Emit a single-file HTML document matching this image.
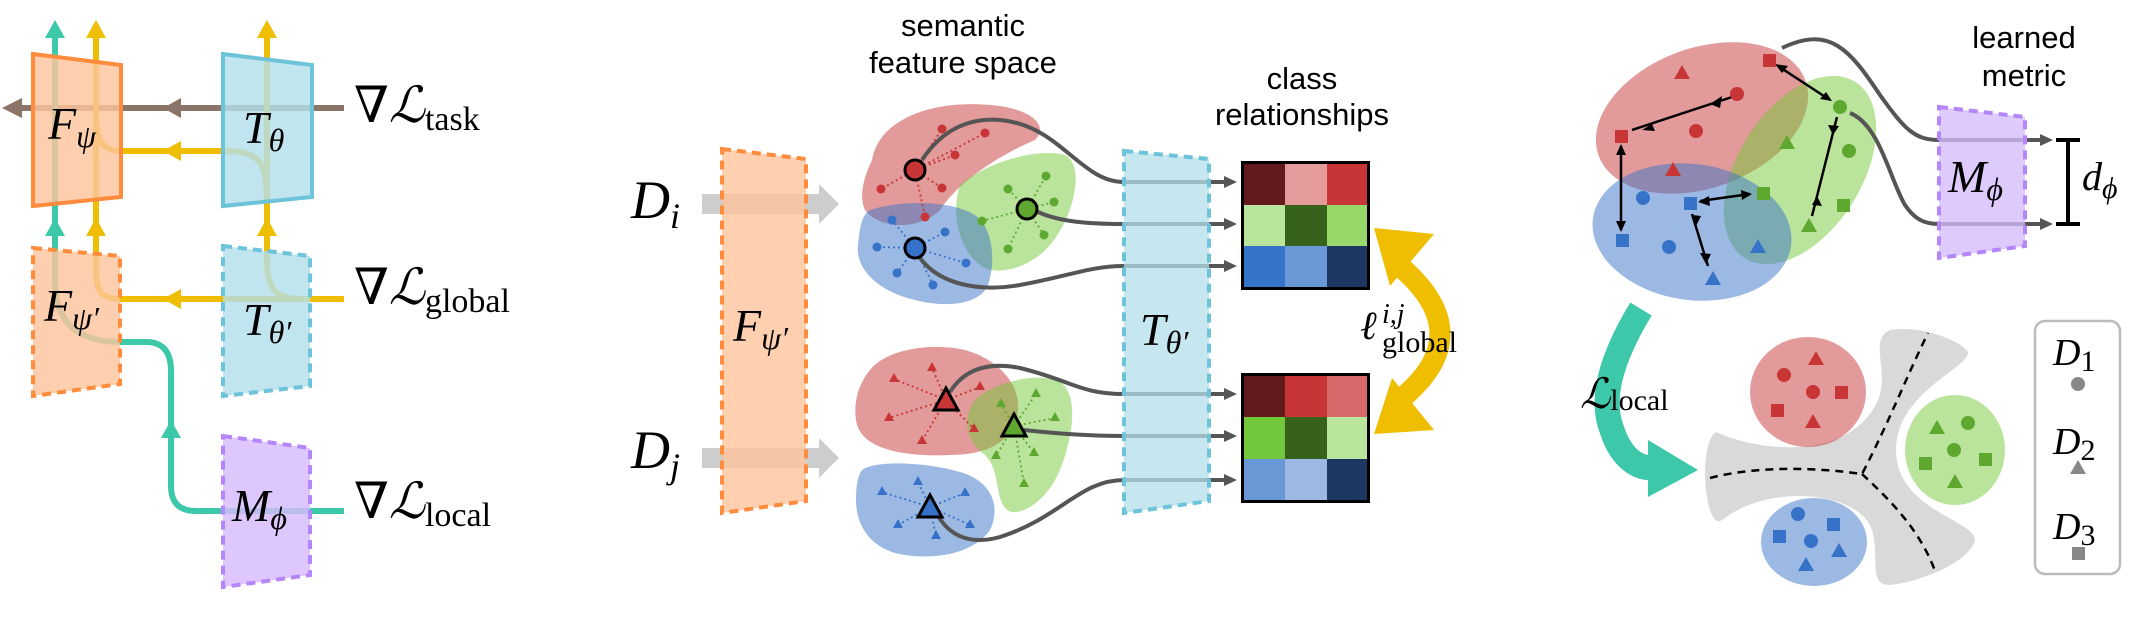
<!DOCTYPE html>
<html><head><meta charset="utf-8"><style>
html,body{margin:0;padding:0;background:#fff;}
svg{display:block;}
.m{font-family:"Liberation Serif","DejaVu Serif",serif;font-style:italic;fill:#000;}
.r{font-family:"Liberation Serif","DejaVu Serif",serif;fill:#000;}
.s{font-family:"Liberation Sans",sans-serif;fill:#000;}
</style></head><body>
<svg width="2133" height="633" viewBox="0 0 2133 633" xmlns="http://www.w3.org/2000/svg">
<!-- ================= LEFT PANEL ================= -->
<g fill="none" stroke-width="6">
  <path d="M344 108 H12" stroke="#8b7468"/>
  <path d="M344 511 H196 Q171 511 171 486 V371 Q171 342 146 342 H120 C75 342 55 320 55 280 V34" stroke="#3cc8a9"/>
  <path d="M344 299 H120 C100 299 96 290 96 268 V34" stroke="#efbe00"/>
  <path d="M344 299 H300 C278 299 267 290 267 262 V34" stroke="#efbe00"/>
  <path d="M267 205 C267 160 260 151 223 151 H121 C102 151 96 140 96 115" stroke="#efbe00"/>
</g>
<g>
  <polygon points="2,108 22,98 22,118" fill="#8b7468"/>
  <polygon points="163,108 181,98 181,118" fill="#8b7468"/>
  <polygon points="163,151 181,141 181,161" fill="#efbe00"/>
  <polygon points="163,299 181,289 181,309" fill="#efbe00"/>
  <polygon points="55,20 45,38 65,38" fill="#3cc8a9"/>
  <polygon points="96,20 86,38 106,38" fill="#efbe00"/>
  <polygon points="267,20 257,38 277,38" fill="#efbe00"/>
  <polygon points="55,218 45,236 65,236" fill="#3cc8a9"/>
  <polygon points="96,218 86,236 106,236" fill="#efbe00"/>
  <polygon points="267,218 257,236 277,236" fill="#efbe00"/>
  <polygon points="171,420 161,438 181,438" fill="#3cc8a9"/>
</g>
<polygon points="33,54 121,65 121,197 33,206" fill="#fec49c" fill-opacity="0.82" stroke="#ff8c3c" stroke-width="4"/>
<polygon points="223,54 312,65 312,197 223,206" fill="#b3dfea" fill-opacity="0.82" stroke="#6cc3da" stroke-width="4"/>
<polygon points="33,248 120,256 120,384 33,396" fill="#fec49c" fill-opacity="0.82" stroke="#ff8c3c" stroke-width="4" stroke-dasharray="9,6"/>
<polygon points="223,246 310,256 310,386 223,396" fill="#b3dfea" fill-opacity="0.82" stroke="#6cc3da" stroke-width="4" stroke-dasharray="9,6"/>
<polygon points="223,436 310,448 310,575 223,587" fill="#d5bbfd" fill-opacity="0.82" stroke="#b585fb" stroke-width="4" stroke-dasharray="9,6"/>
<text class="m" x="48" y="139" font-size="46">F<tspan font-size="32" dy="8">ψ</tspan></text>
<text class="m" x="243" y="143" font-size="46">T<tspan font-size="32" dy="8">θ</tspan></text>
<text class="m" x="44" y="321" font-size="46">F<tspan font-size="32" dy="8">ψ′</tspan></text>
<text class="m" x="243" y="335" font-size="46">T<tspan font-size="32" dy="8">θ′</tspan></text>
<text class="m" x="232" y="521" font-size="46">M<tspan font-size="32" dy="8">ϕ</tspan></text>
<text class="r" x="354" y="122" font-size="50">∇<tspan font-style="italic">ℒ</tspan><tspan font-size="34" dy="8">task</tspan></text>
<text class="r" x="354" y="304" font-size="50">∇<tspan font-style="italic">ℒ</tspan><tspan font-size="34" dy="8">global</tspan></text>
<text class="r" x="354" y="518" font-size="50">∇<tspan font-style="italic">ℒ</tspan><tspan font-size="34" dy="8">local</tspan></text>

<!-- ================= MIDDLE PANEL ================= -->
<text class="s" x="963" y="36" font-size="31" text-anchor="middle">semantic</text>
<text class="s" x="963" y="73" font-size="31" text-anchor="middle">feature space</text>
<text class="s" x="1302" y="89" font-size="31" text-anchor="middle">class</text>
<text class="s" x="1302" y="125" font-size="31" text-anchor="middle">relationships</text>

<text class="m" x="631" y="218" font-size="54">D<tspan font-size="36" dy="10">i</tspan></text>
<text class="m" x="631" y="468" font-size="54">D<tspan font-size="36" dy="10">j</tspan></text>
<g fill="#cdcdcd">
  <rect x="702" y="194" width="118" height="20"/><polygon points="819,184 839,204 819,224"/>
  <rect x="702" y="448" width="118" height="20"/><polygon points="819,438 839,458 819,478"/>
</g>
<polygon points="722,149 806,159 806,501 722,513" fill="#fec49c" fill-opacity="0.8" stroke="#ff8c3c" stroke-width="4" stroke-dasharray="9,6"/>
<text class="m" x="733" y="341" font-size="46">F<tspan font-size="32" dy="8">ψ′</tspan></text>

<!-- top blobs -->
<path d="M872 160 C880 115 940 100 990 105 C1030 108 1050 125 1035 140 C1000 155 960 180 940 210 C920 230 880 230 865 210 C858 195 865 175 872 160 Z" fill="#c83536" fill-opacity="0.5"/>
<path d="M960 185 C990 160 1040 148 1065 155 C1085 165 1075 215 1050 245 C1030 268 1000 275 985 268 C960 255 950 215 960 185 Z" fill="#75c83a" fill-opacity="0.5"/>
<path d="M870 210 C900 200 950 200 975 215 C995 230 995 265 988 285 C980 305 945 308 915 300 C880 292 855 270 858 245 C860 225 862 215 870 210 Z" fill="#3a73c9" fill-opacity="0.5"/>
<!-- bottom blobs -->
<path d="M870 370 C885 350 930 342 965 350 C1000 360 1020 385 1018 410 C1015 440 990 455 950 455 C905 457 860 450 856 420 C853 400 860 382 870 370 Z" fill="#c83536" fill-opacity="0.5"/>
<path d="M975 400 C990 385 1035 370 1060 382 C1080 395 1072 440 1060 470 C1045 505 1015 520 1005 508 C995 495 1000 470 985 455 C965 440 962 418 975 400 Z" fill="#75c83a" fill-opacity="0.5"/>
<path d="M862 470 C875 460 925 462 960 472 C995 482 1000 510 990 530 C975 552 940 560 905 555 C870 550 856 525 856 500 C856 485 858 475 862 470 Z" fill="#3a73c9" fill-opacity="0.5"/>

<!-- dotted spokes -->
<g stroke-width="1.8" stroke-dasharray="2,3" fill="none">
  <g stroke="#c83536"><path d="M915 170 L942 129 M915 170 L985 133 M915 170 L955 155 M915 170 L881 189 M915 170 L942 188 M915 170 L925 217"/></g>
  <g stroke="#3672c8"><path d="M915 248 L892 220 M915 248 L945 232 M915 248 L877 247 M915 248 L966 263 M915 248 L897 273 M915 248 L933 285"/></g>
  <g stroke="#5fa830"><path d="M1027 209 L1046 176 M1027 209 L1008 189 M1027 209 L1054 202 M1027 209 L982 221 M1027 209 L1044 235 M1027 209 L1008 249"/></g>
  <g stroke="#c83536"><path d="M946 400 L894 379 M946 400 L932 368 M946 400 L980 387 M946 400 L889 418 M946 400 L974 429 M946 400 L922 441"/></g>
  <g stroke="#5fa830"><path d="M1014 426 L1001 404 M1014 426 L1036 394 M1014 426 L1055 418 M1014 426 L996 456 M1014 426 L1034 453 M1014 426 L1024 484"/></g>
  <g stroke="#3672c8"><path d="M930 507 L918 482 M930 507 L882 492 M930 507 L965 493 M930 507 L898 525 M930 507 L970 525 M930 507 L936 536"/></g>
</g>
<g fill="#c83536"><circle cx="942" cy="129" r="4.5"/><circle cx="985" cy="133" r="4.5"/><circle cx="955" cy="155" r="4.5"/><circle cx="881" cy="189" r="4.5"/><circle cx="942" cy="188" r="4.5"/><circle cx="925" cy="217" r="4.5"/></g>
<g fill="#3672c8"><circle cx="892" cy="220" r="4.5"/><circle cx="945" cy="232" r="4.5"/><circle cx="877" cy="247" r="4.5"/><circle cx="966" cy="263" r="4.5"/><circle cx="897" cy="273" r="4.5"/><circle cx="933" cy="285" r="4.5"/></g>
<g fill="#5fa830"><circle cx="1046" cy="176" r="4.5"/><circle cx="1008" cy="189" r="4.5"/><circle cx="1054" cy="202" r="4.5"/><circle cx="982" cy="221" r="4.5"/><circle cx="1044" cy="235" r="4.5"/><circle cx="1008" cy="249" r="4.5"/></g>
<g fill="#c83536"><path d="M894 373 l-5 9 h10z M932 362 l-5 9 h10z M980 381 l-5 9 h10z M889 412 l-5 9 h10z M974 423 l-5 9 h10z M922 435 l-5 9 h10z"/></g>
<g fill="#5fa830"><path d="M1001 398 l-5 9 h10z M1036 388 l-5 9 h10z M1055 412 l-5 9 h10z M996 450 l-5 9 h10z M1034 447 l-5 9 h10z M1024 478 l-5 9 h10z"/></g>
<g fill="#3672c8"><path d="M918 476 l-5 9 h10z M882 486 l-5 9 h10z M965 487 l-5 9 h10z M898 519 l-5 9 h10z M970 519 l-5 9 h10z M936 530 l-5 9 h10z"/></g>

<!-- connector curves -->
<g fill="none" stroke="#555" stroke-width="4">
  <path d="M922 160 C945 125 975 118 1000 120 C1060 125 1080 182 1124 182 H1228"/>
  <path d="M1038 212 C1060 222 1090 224 1124 224 H1228"/>
  <path d="M920 258 C940 285 980 292 1020 285 C1070 276 1090 266 1124 266 H1228"/>
  <path d="M950 392 C965 368 990 362 1020 368 C1070 380 1080 394 1124 394 H1228"/>
  <path d="M1024 430 C1060 434 1090 436 1124 436 H1228"/>
  <path d="M936 512 C950 540 975 544 1000 537 C1060 518 1080 480 1124 480 H1228"/>
</g>
<g fill="#555">
  <polygon points="1237,182 1224,176 1224,188"/><polygon points="1237,224 1224,218 1224,230"/><polygon points="1237,266 1224,260 1224,272"/>
  <polygon points="1237,394 1224,388 1224,400"/><polygon points="1237,436 1224,430 1224,442"/><polygon points="1237,480 1224,474 1224,486"/>
</g>
<circle cx="915" cy="170" r="10" fill="#c83536" stroke="#000" stroke-width="3"/>
<circle cx="915" cy="248" r="10" fill="#3672c8" stroke="#000" stroke-width="3"/>
<circle cx="1027" cy="209" r="10" fill="#5fa830" stroke="#000" stroke-width="3"/>
<polygon points="946,388 934,410 958,410" fill="#c83536" stroke="#000" stroke-width="3"/>
<polygon points="1014,414 1002,436 1026,436" fill="#5fa830" stroke="#000" stroke-width="3"/>
<polygon points="930,495 918,517 942,517" fill="#3672c8" stroke="#000" stroke-width="3"/>

<polygon points="1124,151 1209,159 1209,501 1124,513" fill="#b3dfea" fill-opacity="0.75" stroke="#6cc3da" stroke-width="4" stroke-dasharray="9,6"/>
<text class="m" x="1140" y="345" font-size="46">T<tspan font-size="32" dy="8">θ′</tspan></text>

<!-- matrices -->
<g>
  <rect x="1241" y="161" width="129" height="129" fill="#000"/>
  <rect x="1244" y="164" width="41" height="41" fill="#621a1d"/><rect x="1285" y="164" width="42" height="41" fill="#e59a9b"/><rect x="1327" y="164" width="40" height="41" fill="#c83536"/>
  <rect x="1244" y="205" width="41" height="41" fill="#b9e59c"/><rect x="1285" y="205" width="42" height="41" fill="#38621c"/><rect x="1327" y="205" width="40" height="41" fill="#97d86a"/>
  <rect x="1244" y="246" width="41" height="41" fill="#3674c9"/><rect x="1285" y="246" width="42" height="41" fill="#6a97d6"/><rect x="1327" y="246" width="40" height="41" fill="#1c3762"/>
  <rect x="1241" y="373" width="129" height="130" fill="#000"/>
  <rect x="1244" y="376" width="41" height="41" fill="#621a1d"/><rect x="1285" y="376" width="42" height="41" fill="#c83536"/><rect x="1327" y="376" width="40" height="41" fill="#d6686a"/>
  <rect x="1244" y="417" width="41" height="42" fill="#72c83a"/><rect x="1285" y="417" width="42" height="42" fill="#38621c"/><rect x="1327" y="417" width="40" height="42" fill="#b9e59c"/>
  <rect x="1244" y="459" width="41" height="41" fill="#6a97d6"/><rect x="1285" y="459" width="42" height="41" fill="#9db8e3"/><rect x="1327" y="459" width="40" height="41" fill="#1c3762"/>
</g>
<!-- yellow double arrow -->
<path d="M1402 268 Q1478 335 1402 398" fill="none" stroke="#efbe00" stroke-width="21"/>
<polygon points="1374,228 1390,286 1434,234" fill="#efbe00"/>
<polygon points="1374,434 1392,378 1434,430" fill="#efbe00"/>
<text class="m" x="1360" y="339" font-size="40">ℓ</text>
<text class="m" x="1382" y="323" font-size="28">i,j</text>
<text class="r" x="1382" y="352" font-size="30">global</text>

<!-- ================= RIGHT PANEL ================= -->
<ellipse cx="1702" cy="118" rx="110" ry="70" transform="rotate(-20 1702 118)" fill="#c83536" fill-opacity="0.5"/>
<ellipse cx="1800" cy="170" rx="62" ry="104" transform="rotate(32 1800 170)" fill="#75c83a" fill-opacity="0.5"/>
<ellipse cx="1692" cy="232" rx="100" ry="68" transform="rotate(8 1692 232)" fill="#3a73c9" fill-opacity="0.5"/>

<g fill="none" stroke="#555" stroke-width="4">
  <path d="M1782 48 C1830 25 1850 50 1880 95 C1905 130 1915 140 1939 140 H2046"/>
  <path d="M1850 113 C1880 125 1890 180 1905 205 C1915 220 1925 224 1939 224 H2046"/>
</g>
<polygon points="1939,107 2025,117 2025,246 1939,258" fill="#d5bbfd" fill-opacity="0.78" stroke="#b585fb" stroke-width="4" stroke-dasharray="9,6"/>
<g fill="#555"><polygon points="2053,140 2040,134 2040,146"/><polygon points="2053,224 2040,218 2040,230"/></g>
<text class="m" x="1948" y="192" font-size="46">M<tspan font-size="32" dy="8">ϕ</tspan></text>
<path d="M2056 140 H2080 M2068 140 V224 M2056 224 H2080" stroke="#000" stroke-width="4" fill="none"/>
<text class="m" x="2082" y="190" font-size="40">d<tspan font-size="30" dy="8">ϕ</tspan></text>
<text class="s" x="2024" y="48" font-size="31" text-anchor="middle">learned</text>
<text class="s" x="2024" y="86" font-size="31" text-anchor="middle">metric</text>

<!-- arrows between points -->
<g stroke="#000" stroke-width="2.5" fill="none">
  <path d="M1732 97 L1632 130"/>
  <path d="M1778 66 L1830 100"/>
  <path d="M1621 146 L1621 230"/>
  <path d="M1700 201 L1750 194"/>
  <path d="M1837 117 L1812 216"/>
  <path d="M1692 214 L1708 266"/>
</g>
<g fill="#000">
  <polygon points="1710,104 1722,96 1720,108"/><polygon points="1652,124 1642,130 1655,131"/>
  <polygon points="1775,64 1788,66 1782,73"/><polygon points="1832,101 1820,99 1826,92"/>
  <polygon points="1621,144 1616,155 1626,155"/><polygon points="1621,232 1616,221 1626,221"/>
  <polygon points="1698,202 1709,196 1710,206"/><polygon points="1752,194 1741,190 1742,200"/>
  <polygon points="1833,135 1828,125 1839,126"/><polygon points="1817,196 1822,206 1812,205"/>
  <polygon points="1696,226 1692,215 1701,216"/><polygon points="1706,264 1700,253 1711,254"/>
</g>
<g fill="#c83536"><rect x="1763" y="54" width="13" height="13"/><path d="M1682 65 l-8 14 h16z"/><circle cx="1737" cy="94" r="7"/><circle cx="1696" cy="131" r="7"/><rect x="1615" y="130" width="13" height="13"/><path d="M1673 162 l-8 14 h16z"/></g>
<g fill="#5fa830"><circle cx="1840" cy="107" r="7"/><path d="M1787 135 l-8 14 h16z"/><circle cx="1849" cy="151" r="7"/><rect x="1757" y="187" width="13" height="13"/><rect x="1837" y="199" width="13" height="13"/><path d="M1809 218 l-8 14 h16z"/></g>
<g fill="#3672c8"><circle cx="1643" cy="198" r="7"/><rect x="1684" y="197" width="13" height="13"/><rect x="1616" y="234" width="13" height="13"/><circle cx="1669" cy="247" r="7"/><path d="M1758 239 l-8 14 h16z"/><path d="M1713 271 l-8 14 h16z"/></g>

<!-- teal curved arrow -->
<path d="M1641 309 C1610 360 1600 400 1612 430 C1620 455 1635 468 1652 468" fill="none" stroke="#3cc8a9" stroke-width="25"/>
<polygon points="1698,470 1648,440 1648,497" fill="#3cc8a9"/>
<text class="m" x="1580" y="408" font-size="42">ℒ<tspan class="r" font-style="normal" font-size="30" dy="2">local</tspan></text>

<!-- bottom clustered space -->
<path d="M1716 432 C1760 452 1850 462 1878 400 C1890 370 1868 340 1890 330 C1920 325 1960 340 1968 352 C1970 368 1896 392 1896 450 C1896 510 1975 520 1975 540 C1970 562 1920 582 1890 585 C1868 585 1880 560 1872 530 C1860 492 1770 482 1722 520 C1704 532 1698 442 1716 432 Z" fill="#d9d9d9"/>
<path d="M1710 478 C1760 465 1820 468 1862 474 C1890 420 1905 380 1928 333 M1862 474 C1890 500 1920 530 1935 571" fill="none" stroke="#000" stroke-width="2.5" stroke-dasharray="8,6"/>
<ellipse cx="1808" cy="392" rx="58" ry="55" fill="#c83536" fill-opacity="0.5"/>
<ellipse cx="1955" cy="450" rx="50" ry="55" fill="#75c83a" fill-opacity="0.5"/>
<ellipse cx="1814" cy="542" rx="53" ry="44" fill="#3a73c9" fill-opacity="0.5"/>
<g fill="#c83536"><path d="M1816 351 l-8 14 h16z"/><circle cx="1784" cy="375" r="7"/><circle cx="1813" cy="392" r="7"/><rect x="1835" y="386" width="13" height="13"/><rect x="1771" y="404" width="13" height="13"/><path d="M1813 414 l-8 14 h16z"/></g>
<g fill="#5fa830"><path d="M1937 420 l-8 14 h16z"/><circle cx="1968" cy="423" r="7"/><circle cx="1954" cy="450" r="7"/><rect x="1919" y="457" width="13" height="13"/><rect x="1979" y="453" width="13" height="13"/><path d="M1955 474 l-8 14 h16z"/></g>
<g fill="#3672c8"><circle cx="1798" cy="514" r="7"/><rect x="1827" y="518" width="13" height="13"/><rect x="1773" y="530" width="13" height="13"/><circle cx="1811" cy="541" r="7"/><path d="M1839 543 l-8 14 h16z"/><path d="M1806 557 l-8 14 h16z"/></g>

<!-- legend -->
<rect x="2035" y="321" width="85" height="253" rx="10" fill="#fff" stroke="#bbb" stroke-width="2.5"/>
<text class="m" x="2053" y="365" font-size="38">D<tspan class="r" font-style="normal" font-size="30" dy="6">1</tspan></text>
<circle cx="2078" cy="384" r="7" fill="#888"/>
<text class="m" x="2053" y="454" font-size="38">D<tspan class="r" font-style="normal" font-size="30" dy="6">2</tspan></text>
<path d="M2078 460 l-8 14 h16z" fill="#888"/>
<text class="m" x="2053" y="539" font-size="38">D<tspan class="r" font-style="normal" font-size="30" dy="6">3</tspan></text>
<rect x="2072" y="547" width="13" height="13" fill="#888"/>
</svg>
</body></html>
